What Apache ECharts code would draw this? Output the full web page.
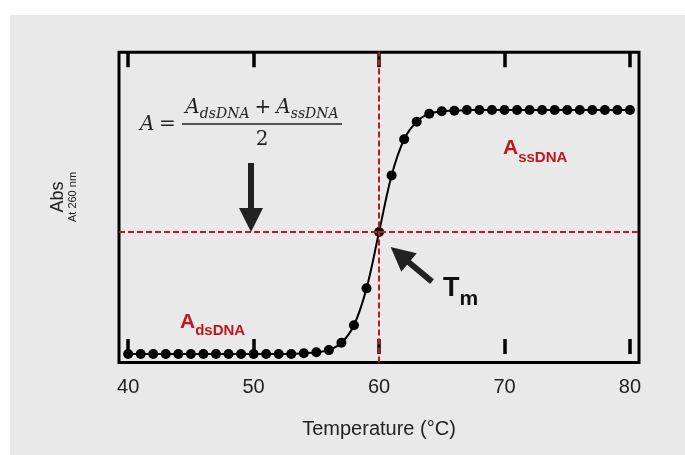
<!DOCTYPE html>
<html>
<head>
<meta charset="utf-8">
<script src="https://cdn.jsdelivr.net/npm/echarts@6/dist/echarts.min.js"></script>
<style>
  html, body { margin: 0; padding: 0; background: #fff; }
  #chart { width: 685px; height: 455px; }
</style>
</head>
<body>
<div id="chart"></div>
<script>
// DNA melting curve: temperature (°C) vs absorbance at 260 nm, normalised (dsDNA = 0, ssDNA = 1)
const temperatures = [40, 41, 42, 43, 44, 45, 46, 47, 48, 49, 50, 51, 52, 53, 54, 55, 56, 57, 58, 59, 60,
  61, 62, 63, 64, 65, 66, 67, 68, 69, 70, 71, 72, 73, 74, 75, 76, 77, 78, 79, 80];
const absorbance = [0, 0, 0, 0, 0, 0, 0, 0, 0, 0, 0, 0, 0, 0, 0.003, 0.007, 0.016, 0.046, 0.118, 0.269, 0.5,
  0.732, 0.88, 0.952, 0.985, 0.995, 0.997, 1, 1, 1, 1, 1, 1, 1, 1, 1, 1, 1, 1, 1, 1];
const xTicks = [40, 50, 60, 70, 80];
const meltTemp = 60;
const halfAbs = 0.5;

const red = '#c0161e';
const ink = '#222';

const chart = echarts.init(document.getElementById('chart'));

// measure text so the formula pieces sit next to each other
const measureCtx = document.createElement('canvas').getContext('2d');
function textWidth(font, s) {
    measureCtx.font = font;
    return measureCtx.measureText(s).width;
}

function txt(x, y, text, font, color, align) {
    return {
        type: 'text', x: x, y: y, silent: true, z: 10,
        style: {
            text: text, font: font, fill: color || ink,
            align: align || 'left', verticalAlign: 'middle',
            textAlign: align || 'left', textVerticalAlign: 'middle'
        }
    };
}

// formula  A = (A_dsDNA + A_ssDNA) / 2
const serifMain = 'italic 20px "DejaVu Serif"';
const serifSub = 'italic 14px "DejaVu Serif"';
const serifUp = '20px "DejaVu Serif"';
const numParts = [
    {text: 'A', font: serifMain, y: 108, gap: 0},
    {text: 'dsDNA', font: serifSub, y: 114.5, gap: 0},
    {text: '+', font: serifUp, y: 108, gap: 5},
    {text: 'A', font: serifMain, y: 108, gap: 5},
    {text: 'ssDNA', font: serifSub, y: 114.5, gap: 0}
];
let numWidth = 0;
numParts.forEach(p => { numWidth += p.gap + textWidth(p.font, p.text); });
let cx = 262 - numWidth / 2;
const formula = [];
numParts.forEach(p => {
    cx += p.gap;
    formula.push(txt(cx, p.y, p.text, p.font));
    cx += textWidth(p.font, p.text);
});
formula.push(txt(140, 124.8, 'A', serifMain));
formula.push(txt(167.5, 124.8, '=', serifUp, ink, 'center'));
formula.push({
    type: 'line', silent: true, z: 10,
    shape: {x1: 182, y1: 124, x2: 342, y2: 124},
    style: {stroke: ink, lineWidth: 1.5}
});
formula.push(txt(262, 139.8, '2', serifUp, ink, 'center'));

function subLabel(x, y, main, sub, mainSize, subSize, color, dy) {
    const mf = 'bold ' + mainSize + 'px "Liberation Sans"';
    const sf = 'bold ' + subSize + 'px "Liberation Sans"';
    return [
        txt(x, y, main, mf, color),
        txt(x + textWidth(mf, main), y + dy, sub, sf, color)
    ];
}

function yTitle(x, text, size) {
    return {
        type: 'text', x: x, y: 197, rotation: Math.PI / 2, silent: true,
        style: {text: text, font: size + 'px "Liberation Sans"', fill: ink,
            align: 'center', verticalAlign: 'middle', textAlign: 'center', textVerticalAlign: 'middle'}
    };
}

const option = {
    backgroundColor: '#fff',
    animation: false,
    grid: {
        left: 119, right: 46, top: 52.3, bottom: 92.5,
        show: true, borderColor: '#000', borderWidth: 3,
        backgroundColor: 'transparent',
        outerBoundsMode: 'none'
    },
    xAxis: [
        {
            type: 'value', position: 'bottom', min: 39.27, max: 80.72,
            axisLine: {show: false},
            splitLine: {show: false},
            axisTick: {show: true, inside: true, length: 15, customValues: xTicks,
                lineStyle: {color: '#000', width: 3.5}},
            axisLabel: {customValues: xTicks, margin: 15, color: ink,
                fontSize: 20, fontFamily: 'Liberation Sans'},
            name: 'Temperature (°C)', nameLocation: 'middle', nameGap: 57,
            nameTextStyle: {color: ink, fontSize: 20, fontFamily: 'Liberation Sans'}
        },
        {
            type: 'value', position: 'top', min: 39.27, max: 80.72,
            axisLine: {show: false},
            splitLine: {show: false},
            axisTick: {show: true, inside: true, length: 15, customValues: xTicks,
                lineStyle: {color: '#000', width: 3.5}},
            axisLabel: {show: false}
        }
    ],
    yAxis: {type: 'value', min: -0.0348, max: 1.2365, show: false},
    graphic: [
        {
            type: 'rect', silent: true, z: -10,
            shape: {x: 10, y: 15, width: 675, height: 440},
            style: {fill: '#e9e9e9'}
        },
        // y axis title
        yTitle(58, 'Abs', 18),
        yTitle(73, 'At 260 nm', 11),
        ...formula,
        ...subLabel(503, 147.8, 'A', 'ssDNA', 21, 15, red, 10),
        ...subLabel(180, 321.8, 'A', 'dsDNA', 21, 15, red, 9),
        ...subLabel(443, 288.7, 'T', 'm', 27, 21, '#111', 10.5),
        // arrow pointing down to the half-way line
        {
            type: 'polygon', silent: true, z: 10,
            shape: {points: [[248, 163], [254, 163], [254, 208], [263, 208], [251, 232], [239, 208], [248, 208]]},
            style: {fill: ink}
        },
        // arrow pointing at Tm
        {
            type: 'polygon', silent: true, z: 10,
            shape: {points: [[433.9, 279.3], [410.9, 260.2], [416.7, 253.3], [390.6, 247.1],
                [401.3, 271.7], [407.1, 264.8], [430.1, 283.9]]},
            style: {fill: ink}
        }
    ],
    series: [
        {
            type: 'line',
            data: temperatures.map((t, i) => [t, absorbance[i]]),
            smooth: 0.35,
            showAllSymbol: true,
            symbol: 'circle',
            symbolSize: 10,
            lineStyle: {color: '#000', width: 2},
            itemStyle: {color: '#000'},
            z: 3
        },
        {
            type: 'line',
            data: [],
            z: 4,
            markLine: {
                silent: true,
                symbol: ['none', 'none'],
                label: {show: false},
                lineStyle: {color: red, width: 2, type: [6, 3]},
                data: [{xAxis: meltTemp}, {yAxis: halfAbs}]
            }
        }
    ]
};

chart.setOption(option);
</script>
</body>
</html>
